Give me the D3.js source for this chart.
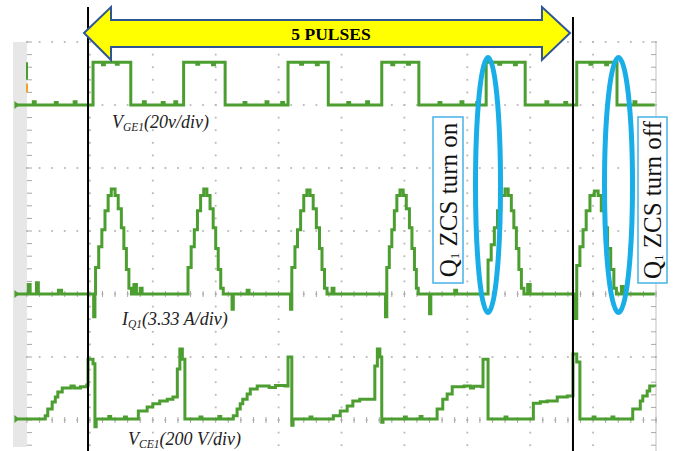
<!DOCTYPE html>
<html><head><meta charset="utf-8">
<script src="https://cdn.jsdelivr.net/npm/d3@7"></script>
<style>html,body{margin:0;padding:0;background:#fff;} svg{display:block;}</style>
</head><body><svg id="c" width="679" height="451"></svg>
<script>
// ---- DATA (time in divisions, values in channel units) ----
const vge = [[-0.16,0],[0.10,1],[0.13,0],[0.45,0.8],[0.48,0],[0.75,1],[0.78,0],
 [1.05,13.6],[1.20,12.8],[1.23,13.6],[1.42,12.9],[1.45,13.6],
 [1.65,0],[1.85,1],[1.88,0],[2.15,0.8],[2.18,0],[2.35,1],[2.38,0],
 [2.49,13.6],[2.70,12.9],[2.73,13.6],[2.95,12.8],[2.98,13.6],
 [3.15,0],[3.45,0.8],[3.48,0],[3.80,1],[3.83,0],[4.05,0.8],[4.08,0],
 [4.15,13.6],[4.35,12.9],[4.38,13.6],[4.60,12.8],[4.63,13.6],
 [4.79,0],[5.10,0.8],[5.13,0],[5.40,1],[5.43,0],
 [5.64,13.6],[5.80,12.8],[5.83,13.6],[6.05,12.9],[6.08,13.6],
 [6.23,0],[6.55,0.8],[6.58,0],[6.90,1],[6.93,0],[7.15,0.8],[7.18,0],
 [7.30,13.6],[7.50,12.9],[7.53,13.6],[7.75,12.8],[7.78,13.6],
 [7.92,0],[8.25,1],[8.28,0],[8.55,0.8],[8.58,0],
 [8.74,13.6],[8.95,12.9],[8.98,13.6],[9.20,12.8],[9.23,13.6],
 [9.38,0],[9.65,1],[9.68,0],[9.98,0]];

const iq = [[-0.16,0],[0.02,0.5],[0.05,0],[0.15,0.6],[0.18,0],[0.50,0.2],[0.55,0],
 [1.06,-1.2],[1.08,0],[1.09,1.4],[1.14,2.5],[1.19,3.4],[1.24,4.4],[1.29,5.2],[1.34,5.55],[1.40,5.2],[1.45,4.5],[1.50,3.5],[1.54,2.4],[1.58,1.3],[1.62,0.3],[1.66,0],[1.70,0.5],[1.74,0],[1.80,0.3],[1.83,0],
 [2.55,0],[2.56,1.4],[2.61,2.5],[2.66,3.4],[2.71,4.4],[2.76,5.2],[2.81,5.55],[2.86,5.2],[2.91,4.5],[2.96,3.5],[3.00,2.4],[3.04,1.3],[3.08,0.3],[3.12,0],[3.26,-0.8],[3.28,0],[3.50,0.2],[3.53,0],
 [4.19,-0.8],[4.21,1.4],[4.26,2.5],[4.30,3.4],[4.35,4.4],[4.40,5.2],[4.45,5.5],[4.50,5.2],[4.55,4.5],[4.60,3.5],[4.65,2.4],[4.69,1.3],[4.73,0.3],[4.77,0],[4.85,0.3],[4.88,0],
 [5.70,-1.2],[5.72,1.4],[5.76,2.5],[5.80,3.4],[5.84,4.4],[5.88,5.2],[5.93,5.5],[5.98,5.2],[6.03,4.5],[6.08,3.5],[6.12,2.4],[6.16,1.3],[6.19,0.3],[6.22,0],[6.40,-1.05],[6.42,0],[6.80,0.2],[6.83,0],
 [7.32,0],[7.33,1.8],[7.38,2.6],[7.43,3.5],[7.48,4.4],[7.53,5.2],[7.60,5.55],[7.65,5.2],[7.70,4.4],[7.74,3.5],[7.78,2.4],[7.82,1.3],[7.86,0.3],[7.90,0],[7.96,0.5],[8.00,0],
 [8.72,-1.3],[8.74,1.5],[8.79,2.5],[8.84,3.4],[8.89,4.4],[8.95,5.2],[9.02,5.45],[9.08,5.2],[9.13,4.4],[9.18,3.5],[9.23,2.4],[9.28,1.3],[9.33,0.3],[9.37,0],[9.45,0.4],[9.48,0],[9.98,0]];

const vce = [[-0.16,0],[0.29,10],[0.33,32],[0.40,54],[0.45,70],[0.49,86],[0.56,98],[0.70,105],[0.75,98],[0.85,102],[0.95,108],[0.97,190],[1.05,175],[1.08,-25],[1.10,0],[1.30,8],[1.33,0],[1.55,6],[1.58,0],
 [1.77,25],[1.91,38],[2.00,48],[2.11,57],[2.23,63],[2.32,70],[2.39,159],[2.43,222],[2.47,190],[2.51,0],[2.75,6],[2.78,0],[3.05,8],[3.08,0],
 [3.28,10],[3.34,32],[3.39,48],[3.43,63],[3.50,79],[3.55,95],[3.66,105],[3.85,100],[3.95,106],[4.10,105],[4.15,197],[4.21,-20],[4.23,0],[4.50,6],[4.53,0],
 [4.87,10],[4.98,25],[5.09,41],[5.18,57],[5.29,63],[5.53,168],[5.57,222],[5.61,197],[5.64,-10],[5.66,0],[6.00,6],[6.03,0],[6.25,8],[6.28,0],
 [6.52,32],[6.61,63],[6.68,79],[6.76,102],[6.95,105],[7.05,98],[7.10,104],[7.23,102],[7.25,190],[7.33,0],[7.60,6],[7.63,0],
 [8.05,50],[8.16,55],[8.27,57],[8.43,70],[8.59,73],[8.68,206],[8.74,181],[8.79,0],[9.00,6],[9.03,0],[9.30,6],[9.33,0],
 [9.63,32],[9.75,57],[9.79,73],[9.86,89],[9.90,105],[9.98,102]];

const labelMain = ["V","I","V"];
const labelSub  = ["GE1","Q1","CE1"];
const labelRest = ["(20v/div)","(3.33 A/div)","(200 V/div)"];
const voltsPerDiv = [20, 3.33, 200];
const markerTimes = [0.97, 8.68];          // black cursor lines (div)
const pulseLabel = "5 PULSES";
const zcsLabels = [" ZCS turn on"," ZCS turn off"];

// ---- SCALES ----
const svg = d3.select("#c");
const x = d3.scaleLinear().domain([0,10]).range([27,656]);
const y = d3.scaleLinear().domain([4,-4]).range([42,546]);
const offsets = [3.0, 0, -1.984];
const green = "#4b9e2f";

svg.append("rect").attr("width",679).attr("height",451).attr("fill","#fff");
// left gray strip
svg.append("rect").attr("x",13).attr("y",y(4)).attr("width",x(0)-13).attr("height",447-y(4)).attr("fill","#e7e7e7");
// right border
svg.append("line").attr("x1",x(10)).attr("x2",x(10)).attr("y1",y(4)).attr("y2",451).attr("stroke","#d4d4d4").attr("stroke-width",1.5);

// grid dots
const g = svg.append("g").attr("fill","#b8b8b8");
const vLines = d3.range(1,10);
const hLines = d3.range(4,-2.5,-1);
const minor = d3.range(0,10.01,0.2);
const minorY = d3.range(4,-2.6,-0.2);
vLines.forEach(i=>{ minorY.forEach(v=>{ g.append("rect").attr("x",x(i)-0.9).attr("y",y(v)-0.9).attr("width",1.8).attr("height",1.8);});});
hLines.forEach(v=>{ minor.forEach(t=>{ g.append("rect").attr("x",x(t)-0.9).attr("y",y(v)-0.9).attr("width",1.8).attr("height",1.8);});});
// minor ticks
const tk = svg.append("g").attr("stroke","#a8a8a8").attr("stroke-width",1);
[0,-2].forEach(v=>{ minor.forEach(t=>{ tk.append("line").attr("x1",x(t)).attr("x2",x(t)).attr("y1",y(v)-3).attr("y2",y(v)+3);});});
minorY.forEach(v=>{
  tk.append("line").attr("x1",x(0)).attr("x2",x(0)+5).attr("y1",y(v)).attr("y2",y(v));
  tk.append("line").attr("x1",x(10)-5).attr("x2",x(10)).attr("y1",y(v)).attr("y2",y(v));
});

// traces
const traces = [vge, iq, vce];
traces.forEach((d,k)=>{
  const line = d3.line().curve(d3.curveStepAfter)
    .x(p=>x(p[0])).y(p=>y(offsets[k] + p[1]/voltsPerDiv[k]));
  svg.append("path").attr("d",line(d)).attr("fill","none").attr("stroke",green)
    .attr("stroke-width",3).attr("stroke-linejoin","miter");
  const y0 = y(offsets[k]);
  svg.append("path").attr("d",`M${x(-0.2)},${y0-4}L${x(-0.12)},${y0}L${x(-0.2)},${y0+4}Z`).attr("fill",green);
});
// ch1 edge marker
svg.append("line").attr("x1",x(0)).attr("x2",x(0)).attr("y1",y(3.68)).attr("y2",y(3.4)).attr("stroke",green).attr("stroke-width",2);
svg.append("line").attr("x1",x(0)).attr("x2",x(0)).attr("y1",y(3.34)).attr("y2",y(3.2)).attr("stroke","#f0a030").attr("stroke-width",2);

// black cursor lines
svg.append("line").attr("x1",x(markerTimes[0])).attr("x2",x(markerTimes[0])).attr("y1",7).attr("y2",451).attr("stroke","#000").attr("stroke-width",2);
svg.append("line").attr("x1",x(markerTimes[1])).attr("x2",x(markerTimes[1])).attr("y1",17).attr("y2",451).attr("stroke","#000").attr("stroke-width",2);

// double arrow
const ax0 = x(markerTimes[0]) - 4, ax1 = x(markerTimes[1]) - 3;
const ay = 33;
svg.append("path").attr("d",
  `M${ax0},${ay}L${ax0+27},${ay-26}L${ax0+27},${ay-13}L${ax1-28},${ay-13}L${ax1-28},${ay-26}L${ax1},${ay}L${ax1-28},${ay+27}L${ax1-28},${ay+14}L${ax0+27},${ay+14}L${ax0+27},${ay+27}Z`)
  .attr("fill","#ffff00").attr("stroke","#2f5597").attr("stroke-width",2).attr("stroke-linejoin","miter");
svg.append("text").attr("x",331).attr("y",40).attr("text-anchor","middle")
  .attr("font-family","Liberation Serif, Times New Roman, serif").attr("font-weight","bold").attr("font-size",17.5)
  .attr("fill","#000").text(pulseLabel);

// channel labels
const labelPos = [[112,128],[122,325],[128,445]];
labelMain.forEach((m,k)=>{
  const t = svg.append("text").attr("x",labelPos[k][0]).attr("y",labelPos[k][1])
    .attr("font-family","Liberation Serif, Times New Roman, serif").attr("font-style","italic")
    .attr("font-size",18).attr("fill","#222");
  t.append("tspan").text(m);
  t.append("tspan").attr("font-size",11.5).attr("dy",3).text(labelSub[k]);
  t.append("tspan").attr("dy",-3).text(labelRest[k]);
});

// ZCS boxes
const boxes = [[433,463],[638,667]];
boxes.forEach((b,k)=>{
  svg.append("rect").attr("x",b[0]).attr("y",117).attr("width",b[1]-b[0]).attr("height",166)
    .attr("fill","#fff").attr("stroke","#45b2e6").attr("stroke-width",1.5);
  const cx=(b[0]+b[1])/2, cy=200;
  const t = svg.append("text").attr("transform",`translate(${cx},${cy}) rotate(-90)`)
    .attr("x",0).attr("y",8.5).attr("text-anchor","middle")
    .attr("font-family","Liberation Serif, Times New Roman, serif").attr("font-size",25).attr("fill","#111");
  t.append("tspan").text("Q");
  t.append("tspan").attr("font-size",13).attr("dy",2).text("1");
  t.append("tspan").attr("dy",-2).text(zcsLabels[k]);
});

// ellipses
[[488,12.5],[618.5,14]].forEach(e=>{
  svg.append("ellipse").attr("cx",e[0]).attr("cy",185).attr("rx",e[1]).attr("ry",127.5)
    .attr("fill","none").attr("stroke","#1aaee8").attr("stroke-width",5);
});
</script></body></html>
